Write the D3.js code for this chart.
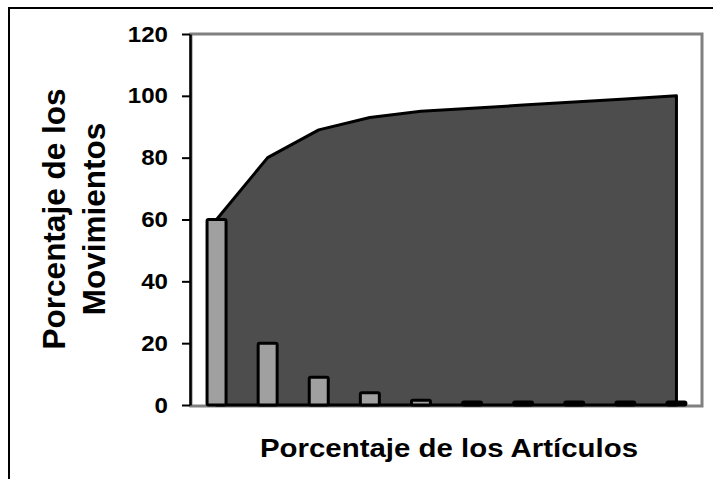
<!DOCTYPE html>
<html><head><meta charset="utf-8">
<script src="https://cdn.jsdelivr.net/npm/d3@7"></script>
<style>html,body{margin:0;padding:0;background:#fff;overflow:hidden}</style>
</head><body>
<svg id="c" width="713" height="479"></svg>
<script>
const categories = ["1","2","3","4","5","6","7","8","9","10"];
const barValues = [60, 20, 9, 4, 1.5, 1, 1, 1, 1, 1];
const cumulativeValues = [60, 80, 89, 93, 95, 96, 97, 98, 99, 100];
const yTicks = [0, 20, 40, 60, 80, 100, 120];
const yTitleLines = ["Porcentaje de los", "Movimientos"];
const xTitle = "Porcentaje de los Artículos";

const svg = d3.select("#c");
const font = "'Liberation Sans', Arial, sans-serif";

// outer frame
svg.append("rect").attr("x", 9).attr("y", 8).attr("width", 720).attr("height", 500)
  .attr("fill", "none").attr("stroke", "#000").attr("stroke-width", 2);

const x = d3.scaleBand().domain(categories).range([191, 702]);
const y = d3.scaleLinear().domain([0, 120]).range([405, 34]);
const cx = d => x(d) + x.bandwidth() / 2;

// plot area border (gray)
svg.append("rect").attr("x", 191).attr("y", y(120)).attr("width", 702 - 191).attr("height", y(0) - y(120) + 1)
  .attr("fill", "none").attr("stroke", "#808080").attr("stroke-width", 3);

// area
const area = d3.area().x((d, i) => cx(categories[i])).y0(y(0)).y1(d => y(d));
svg.append("path").datum(cumulativeValues).attr("d", area)
  .attr("fill", "#4d4d4d").attr("stroke", "#000").attr("stroke-width", 3).attr("stroke-linejoin", "round");

// bars
const bw = 19;
svg.selectAll("rect.bar").data(barValues).join("rect").attr("class", "bar")
  .attr("x", (d, i) => cx(categories[i]) - bw / 2)
  .attr("y", d => y(d))
  .attr("width", bw)
  .attr("height", d => y(0) - y(d))
  .attr("rx", 1.5)
  .attr("fill", "#a0a0a0").attr("stroke", "#000").attr("stroke-width", 3);

// y axis
const yAxis = d3.axisLeft(y).tickValues(yTicks).tickSize(8).tickPadding(14).tickSizeOuter(0);
const gy = svg.append("g").attr("transform", "translate(190,0)").call(yAxis);
gy.select(".domain").attr("stroke", "#000").attr("stroke-width", 2.5);
gy.selectAll(".tick line").attr("stroke", "#000").attr("stroke-width", 2);
gy.selectAll(".tick text").attr("font-family", font).attr("font-weight", "bold")
  .attr("font-size", 22).attr("fill", "#000")
  .attr("textLength", d => String(d).length * 13.4).attr("lengthAdjust", "spacingAndGlyphs");

// y title
const yt = svg.append("text").attr("transform", "translate(0,219) rotate(-90)")
  .attr("text-anchor", "middle").attr("font-family", font).attr("font-weight", "bold")
  .attr("font-size", 31.5).attr("fill", "#000");
yt.append("tspan").attr("x", 0).attr("y", 65).text(yTitleLines[0]);
yt.append("tspan").attr("x", 0).attr("y", 105).text(yTitleLines[1]);

// x title
svg.append("text").attr("x", 449).attr("y", 457).attr("text-anchor", "middle")
  .attr("font-family", font).attr("font-weight", "bold").attr("font-size", 25).attr("fill", "#000")
  .attr("textLength", 378).attr("lengthAdjust", "spacingAndGlyphs").text(xTitle);
</script>
</body></html>
